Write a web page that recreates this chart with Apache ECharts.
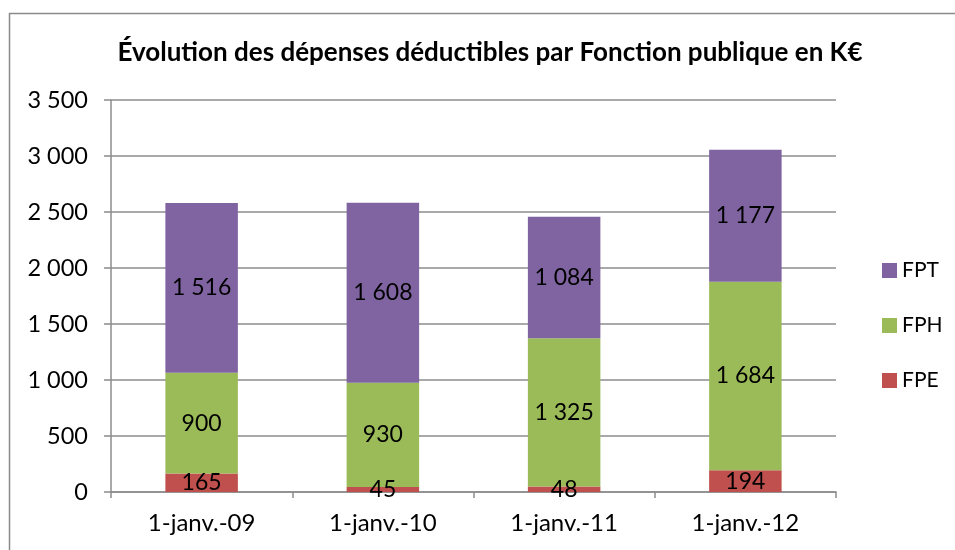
<!DOCTYPE html>
<html>
<head>
<meta charset="utf-8">
<script src="https://cdn.jsdelivr.net/npm/echarts@6/dist/echarts.min.js"></script>
<style>
  html, body { margin: 0; padding: 0; background: #fff; }
  #chart { width: 955px; height: 550px; }
</style>
</head>
<body>
<div id="chart"></div>
<script>
var categories = ['1-janv.-09', '1-janv.-10', '1-janv.-11', '1-janv.-12'];
var fpe = [165, 45, 48, 194];
var fph = [900, 930, 1325, 1684];
var fpt = [1516, 1608, 1084, 1177];

var FONT = 'Lato, "Open Sans", sans-serif';

// format with space as thousands separator: 1516 -> "1 516"
function fmt(v) {
  return String(v).replace(/\B(?=(\d{3})+(?!\d))/g, ' ');
}

var myChart = echarts.init(document.getElementById('chart'));

var labelStyle = {
  show: true,
  position: 'inside',
  color: '#000',
  fontSize: 23,
  fontFamily: FONT,
  formatter: function (p) { return fmt(p.value); }
};

function bar(name, data, color) {
  return {
    name: name,
    type: 'bar',
    stack: 'total',
    barWidth: '40%',
    data: data,
    itemStyle: { color: color },
    label: labelStyle,
    emphasis: { disabled: true }
  };
}

var option = {
  animation: false,
  title: {
    text: 'Évolution des dépenses déductibles par Fonction publique en K€',
    left: 485,
    textAlign: 'center',
    top: 35,
    textStyle: { fontSize: 26, fontWeight: 'bold', color: '#000', fontFamily: FONT }
  },
  graphic: [{
    type: 'rect',
    shape: { x: 9.5, y: 13.5, width: 1000, height: 600 },
    style: { fill: 'none', stroke: '#8a8a8a', lineWidth: 1.5 },
    silent: true
  }],
  legend: {
    orient: 'vertical',
    left: 877,
    top: 255,
    itemGap: 34,
    itemWidth: 15,
    itemHeight: 15,
    icon: 'rect',
    data: ['FPT', 'FPH', 'FPE'],
    textStyle: { fontSize: 21, color: '#000', fontFamily: FONT }
  },
  grid: {
    left: 111,
    right: 119,
    top: 100,
    bottom: 58
  },
  xAxis: {
    type: 'category',
    data: categories,
    axisLine: { lineStyle: { color: '#8c8c8c', width: 1.5 } },
    axisTick: { show: true, length: 6, lineStyle: { color: '#8c8c8c', width: 1.5 } },
    axisLabel: { color: '#000', fontSize: 24, fontFamily: FONT, margin: 19 }
  },
  yAxis: {
    type: 'value',
    min: 0,
    max: 3500,
    interval: 500,
    axisLine: { show: true, lineStyle: { color: '#8c8c8c', width: 1.5 } },
    axisTick: { show: true, length: 7, lineStyle: { color: '#8c8c8c', width: 1.5 } },
    splitLine: { lineStyle: { color: '#8c8c8c', width: 1.5 } },
    axisLabel: {
      color: '#000', fontSize: 23.5, fontFamily: FONT, margin: 23,
      formatter: function (v) { return fmt(v); }
    }
  },
  series: [
    bar('FPE', fpe, '#C0504D'),
    bar('FPH', fph, '#9BBB59'),
    bar('FPT', fpt, '#8064A2')
  ]
};

option && myChart.setOption(option);
</script>
</body>
</html>
